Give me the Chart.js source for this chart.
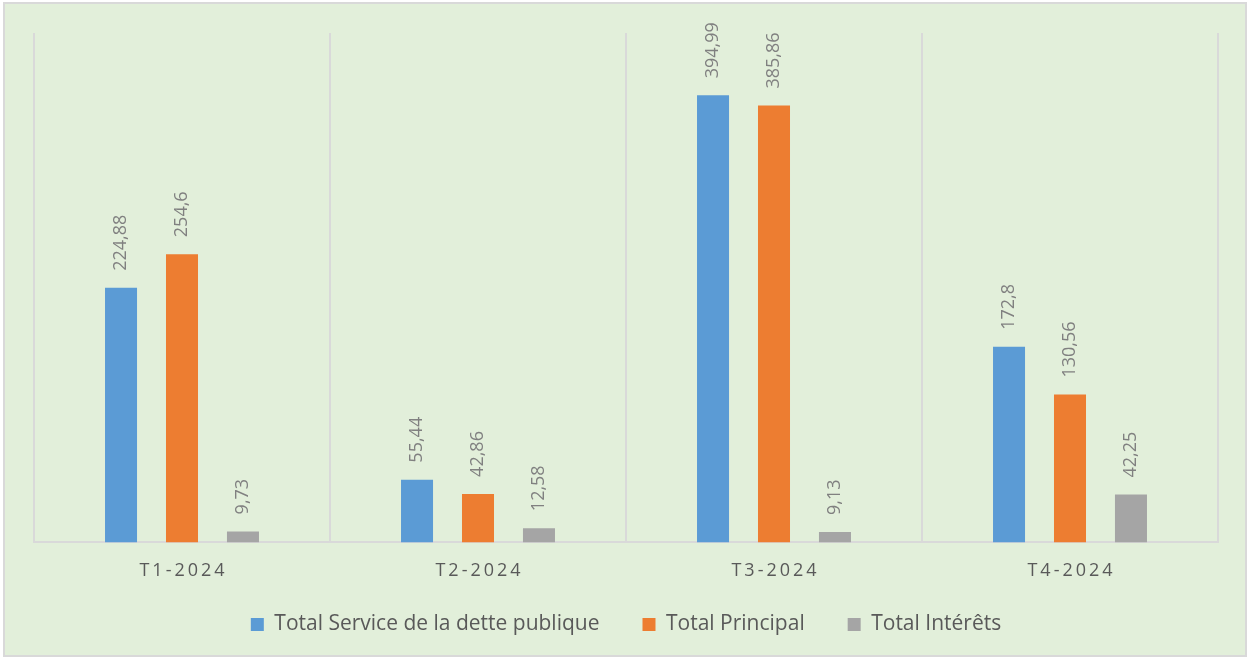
<!DOCTYPE html>
<html>
<head>
<meta charset="utf-8">
<script src="https://cdn.jsdelivr.net/npm/chart.js@4"></script>
<style>
  html, body { margin:0; padding:0; background:#fff; }
  #wrap { width:1248px; height:659px; }
</style>
</head>
<body>
<div id="wrap"><canvas id="graf"></canvas></div>
<script>
// ── Données ──
const trimestres = ["T1-2024", "T2-2024", "T3-2024", "T4-2024"];
const serviceDette = [224.88, 55.44, 394.99, 172.8];
const principal    = [254.6, 42.86, 385.86, 130.56];
const interets     = [9.73, 12.58, 9.13, 42.25];
const nomsSeries   = ["Total Service de la dette publique", "Total Principal", "Total Intérêts"];

const C = { bleu:'#5b9bd5', orange:'#ed7d31', gris:'#a5a5a5', fond:'#e2efda', ligne:'#d9d9d9', texte:'#595959', etiq:'#808080' };
const FONT = "'Open Sans', sans-serif";

const fr = v => String(v).replace('.', ',');

// fond + cadre
const cadre = {
  id:'cadre',
  beforeDraw(chart) {
    const ctx = chart.ctx;
    ctx.save();
    ctx.fillStyle = C.fond;
    ctx.fillRect(4, 3, 1242, 653);
    ctx.strokeStyle = C.ligne; ctx.lineWidth = 2;
    ctx.strokeRect(4, 3, 1242, 653);
    ctx.restore();
  },
  // remonte la légende (son padding sert aussi d'écart horizontal)
  afterLayout(chart) {
    const lg = chart.legend;
    if (lg) { lg.top -= 29; lg.bottom -= 29; }
  }
};

// étiquettes verticales au-dessus des barres
const etiquettes = {
  id:'etiquettes',
  afterDatasetsDraw(chart) {
    const ctx = chart.ctx;
    ctx.save();
    ctx.font = "18px " + FONT;
    ctx.fillStyle = C.etiq;
    ctx.textAlign = "left"; ctx.textBaseline = "middle";
    chart.data.datasets.forEach((ds, i) => {
      chart.getDatasetMeta(i).data.forEach((bar, j) => {
        ctx.save();
        ctx.translate(bar.x, bar.y - 17);
        ctx.rotate(-Math.PI/2);
        ctx.fillText(fr(ds.data[j]), 0, 0);
        ctx.restore();
      });
    });
    ctx.restore();
  }
};

new Chart(document.getElementById("graf"), {
  type:"bar",
  data:{ labels:trimestres, datasets:[
    { label:nomsSeries[0], data:serviceDette, backgroundColor:C.bleu },
    { label:nomsSeries[1], data:principal,    backgroundColor:C.orange },
    { label:nomsSeries[2], data:interets,     backgroundColor:C.gris }
  ]},
  options:{ responsive:true, maintainAspectRatio:false, animation:false,
    categoryPercentage:.618, barPercentage:.525,
    layout:{ padding:{ left:34, right:30, top:33, bottom:-15 } },
    plugins:{
      legend:{ position:"bottom",
        labels:{ boxWidth:13, boxHeight:13, padding:43, color:C.texte, font:{ size:21, family:FONT } } },
      tooltip:{ enabled:false }
    },
    scales:{
      x:{ grid:{ display:true, offset:true, color:C.ligne, lineWidth:2, drawTicks:false },
          border:{ display:true, color:C.ligne, width:2 },
          ticks:{ color:C.texte, padding:18, font:{ size:18, family:FONT },
                  callback:function(v){ return this.getLabelForValue(v).split('').join('\u2009'); } } },
      y:{ display:false, min:0, max:450 }
    }
  },
  plugins:[cadre, etiquettes]
});
</script>
</body>
</html>
